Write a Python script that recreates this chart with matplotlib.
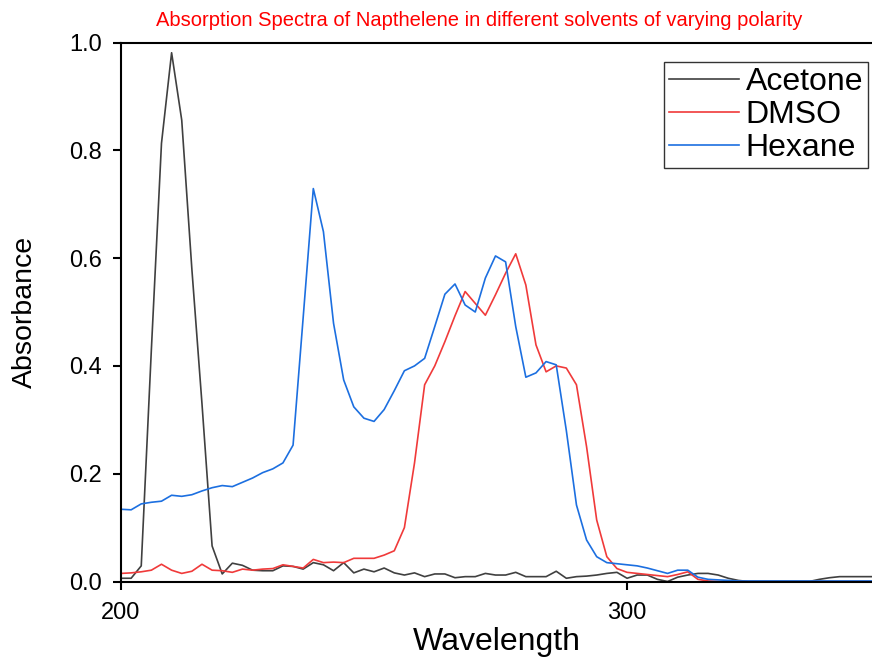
import matplotlib
matplotlib.use("Agg")
import matplotlib.pyplot as plt
import numpy as np

plt.rcParams['font.family'] = ['Liberation Sans', 'DejaVu Sans']

# wavelength grid (nm), 2 nm steps
wavelength = np.arange(200, 352, 2)

# Absorbance
acetone = [0.006, 0.006, 0.029, 0.43, 0.813, 0.981, 0.856, 0.58, 0.33, 0.066,
           0.014, 0.034, 0.030, 0.021, 0.020, 0.020, 0.029, 0.028, 0.023, 0.035,
           0.031, 0.020, 0.035, 0.016, 0.023, 0.018, 0.025, 0.016, 0.012, 0.016,
           0.009, 0.014, 0.014, 0.007, 0.009, 0.009, 0.015, 0.012, 0.012, 0.017,
           0.009, 0.009, 0.009, 0.019, 0.006, 0.009, 0.010, 0.012, 0.015, 0.017,
           0.006, 0.012, 0.012, 0.004, 0.000, 0.008, 0.012, 0.015, 0.015, 0.012,
           0.006, 0.002, 0.000, 0.000, 0.000, 0.000, 0.000, 0.000, 0.000, 0.004,
           0.007, 0.009, 0.009, 0.009, 0.009, 0.009]

dmso = [0.015, 0.016, 0.018, 0.021, 0.032, 0.021, 0.015, 0.019, 0.032, 0.021,
        0.020, 0.017, 0.023, 0.021, 0.023, 0.024, 0.031, 0.028, 0.025, 0.041,
        0.035, 0.036, 0.035, 0.043, 0.043, 0.043, 0.049, 0.057, 0.100, 0.220,
        0.365, 0.400, 0.445, 0.493, 0.538, 0.516, 0.494, 0.532, 0.572, 0.608,
        0.550, 0.439, 0.389, 0.400, 0.396, 0.365, 0.250, 0.114, 0.046, 0.024,
        0.017, 0.015, 0.013, 0.011, 0.009, 0.013, 0.018, 0.004, 0.001, 0.000,
        0.000, 0.000, 0.000, 0.000, 0.000, 0.000, 0.000, 0.000, 0.000, 0.000,
        0.000, 0.000, 0.000, 0.000, 0.000, 0.000]

hexane = [0.134, 0.133, 0.144, 0.147, 0.149, 0.160, 0.158, 0.161, 0.168, 0.174,
          0.178, 0.176, 0.184, 0.192, 0.202, 0.209, 0.220, 0.253, 0.490, 0.729,
          0.649, 0.479, 0.374, 0.324, 0.303, 0.297, 0.319, 0.354, 0.391, 0.400,
          0.414, 0.473, 0.533, 0.552, 0.513, 0.500, 0.563, 0.604, 0.593, 0.473,
          0.379, 0.387, 0.408, 0.402, 0.280, 0.142, 0.077, 0.046, 0.035, 0.033,
          0.031, 0.029, 0.025, 0.020, 0.015, 0.021, 0.021, 0.008, 0.004, 0.003,
          0.002, 0.001, 0.001, 0.001, 0.001, 0.001, 0.001, 0.001, 0.001, 0.001,
          0.001, 0.001, 0.001, 0.001, 0.001, 0.001]

fig = plt.figure(figsize=(8.72, 6.6), dpi=100)
ax = fig.add_axes([121/872, 1 - 581.5/660, 1 - 121/872, (581.5 - 42.5)/660])

ax.plot(wavelength, acetone, color='#404040', lw=1.2, label='Acetone')
ax.plot(wavelength, dmso, color='#f03a3a', lw=1.2, label='DMSO')
ax.plot(wavelength, hexane, color='#1c6fe0', lw=1.2, label='Hexane')

ax.set_xlim(200, 348.4)
ax.set_ylim(0, 1.0)
ax.set_xticks([200, 300])
ax.set_yticks([0.0, 0.2, 0.4, 0.6, 0.8, 1.0])
ax.set_yticklabels(['0.0', '0.2', '0.4', '0.6', '0.8', '1.0'])
ax.tick_params(axis='both', direction='out', length=6, width=1.5, labelsize=17)
ax.tick_params(axis='x', pad=9)
ax.tick_params(axis='y', pad=8)
ax.spines['right'].set_visible(False)
for s in ['left', 'bottom', 'top']:
    ax.spines[s].set_linewidth(1.5)

ax.set_xlabel('Wavelength', fontsize=23, labelpad=2)
ax.set_ylabel('Absorbance', fontsize=20.5, labelpad=22)

fig.text(479/872, 1 - 20/660, 'Absorption Spectra of Napthelene in different solvents of varying polarity',
         color='red', fontsize=14.5, ha='center', va='center')

leg = ax.legend(loc='upper right', bbox_to_anchor=(868/872, 1 - 62/660),
                bbox_transform=fig.transFigure, fontsize=23, frameon=True,
                fancybox=False, borderaxespad=0, handlelength=2.2,
                handletextpad=0.2, labelspacing=0.1, borderpad=0.15)
leg.get_frame().set_edgecolor('black')
leg.get_frame().set_linewidth(1.0)

fig.savefig('out.png', dpi=100)
